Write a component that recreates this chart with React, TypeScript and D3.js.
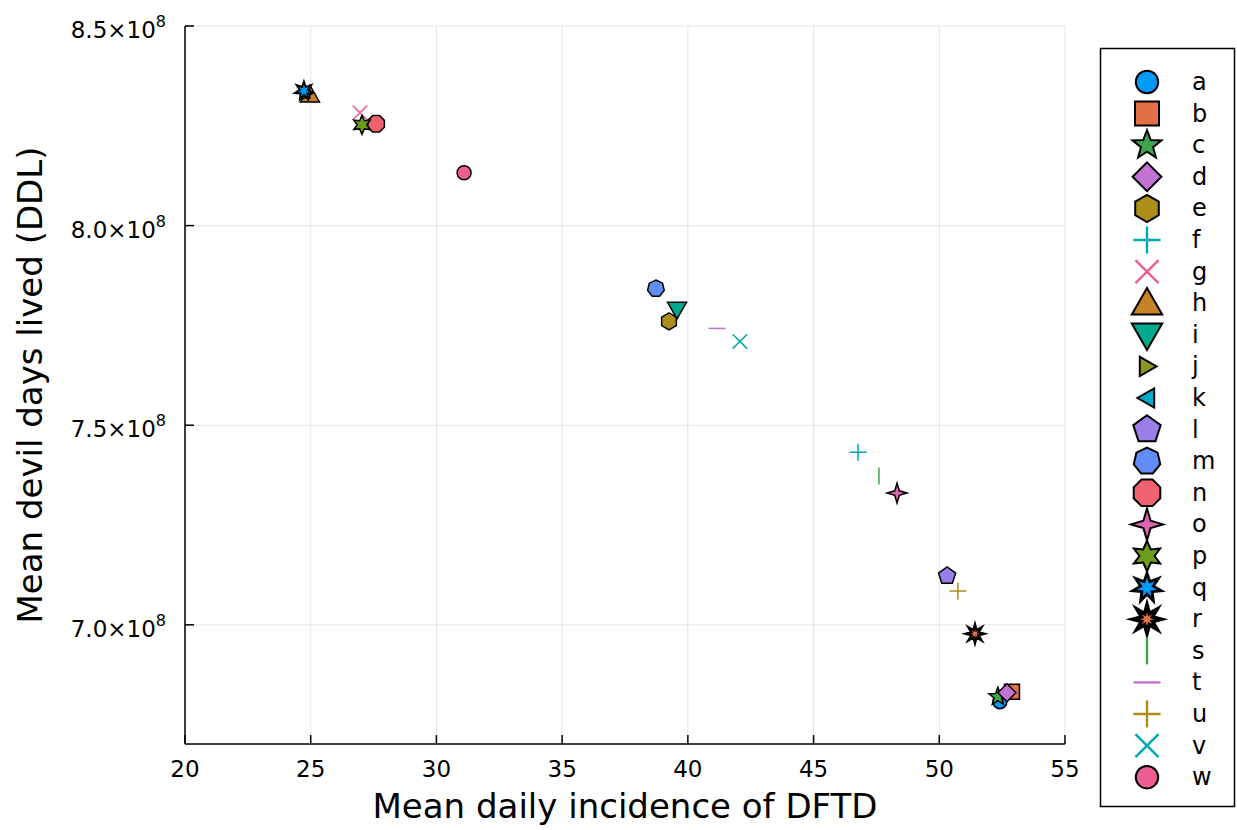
import React, { useEffect, useRef } from "react";
import * as d3 from "d3";

// series labels, marker shapes and values
const labels = ["a","b","c","d","e","f","g","h","i","j","k","l","m","n","o","p","q","r","s","t","u","v","w"];
const shapes = ["circle","rect","star5","diamond","hexagon","cross","xcross","utriangle","dtriangle","rtriangle","ltriangle","pentagon","heptagon","octagon","star4","star6","star7","star8","vline","hline","+","x","circle"];
const incidence = [52.41,52.89,52.33,52.69,39.25,46.77,26.96,24.97,39.57,24.85,24.78,50.31,38.73,27.6,48.32,27.04,24.73,51.42,47.6,41.16,50.74,42.07,31.1];
const daysLived = [6.8075e8,6.8325e8,6.82e8,6.83e8,7.76e8,7.4325e8,8.2825e8,8.3275e8,7.79e8,8.332e8,8.334e8,7.1225e8,7.8425e8,8.255e8,7.33e8,8.2525e8,8.3375e8,6.9775e8,7.3725e8,7.7425e8,7.085e8,7.71e8,8.1325e8];
const palette = ["#009AFA","#E36F47","#3EA44E","#C371D2","#AC8E18","#00AAAE","#ED5E93","#C68225","#00A98D","#8E971E","#00A8CB","#9B7FE9","#618DF6","#F0626F","#DD64B4","#6B9D1A"];
const xTicks = [20,25,30,35,40,45,50,55];
const yTicks = [7.0e8,7.5e8,8.0e8,8.5e8];
const yTickLabels = ["7.0", "7.5", "8.0", "8.5"];

const sizes: Record<string, number> = {
  circle: 7, rect: 7.5, star5: 9.5, diamond: 7.5, hexagon: 8.5, cross: 8.5, xcross: 8.5,
  utriangle: 9.5, dtriangle: 9.5, rtriangle: 6, ltriangle: 6, pentagon: 9, heptagon: 8.5,
  octagon: 9, star4: 10, star6: 9.5, star7: 10, star8: 11, vline: 8.5, hline: 8.5, "+": 8.5, x: 8.5,
};

function poly(n: number, r: number, rot: number) {
  const pts = d3.range(n).map(i => {
    const a = rot + (i * 2 * Math.PI) / n;
    return [r * Math.sin(a), -r * Math.cos(a)];
  });
  return "M" + pts.map(p => p[0].toFixed(2) + "," + p[1].toFixed(2)).join("L") + "Z";
}
function star(n: number, r: number, inner: number) {
  const pts = d3.range(2 * n).map(i => {
    const a = (i * Math.PI) / n;
    const rr = i % 2 ? r * inner : r;
    return [rr * Math.sin(a), -rr * Math.cos(a)];
  });
  return "M" + pts.map(p => p[0].toFixed(2) + "," + p[1].toFixed(2)).join("L") + "Z";
}

function markerPath(shape: string, r: number) {
  switch (shape) {
    case "circle": return d3.symbol(d3.symbolCircle, Math.PI * r * r)()!;
    case "rect": return `M${-r},${-r}H${r}V${r}H${-r}Z`;
    case "diamond": return poly(4, r * 1.2, 0);
    case "hexagon": return poly(6, r, 0);
    case "pentagon": return poly(5, r, 0);
    case "heptagon": return poly(7, r, 0);
    case "octagon": return poly(8, r, Math.PI / 8);
    case "utriangle": return `M0,${-r}L${r},${r * 0.75}L${-r},${r * 0.75}Z`;
    case "dtriangle": return `M0,${r}L${r},${-r * 0.75}L${-r},${-r * 0.75}Z`;
    case "rtriangle": return `M${r},0L${-r * 0.75},${r}L${-r * 0.75},${-r}Z`;
    case "ltriangle": return `M${-r},0L${r * 0.75},${r}L${r * 0.75},${-r}Z`;
    case "star4": return star(4, r, 0.32);
    case "star5": return star(5, r, 0.42);
    case "star6": return star(6, r, 0.5);
    case "star7": return star(7, r, 0.45);
    case "star8": return star(8, r, 0.42);
    case "cross": case "+": return `M${-r},0H${r}M0,${-r}V${r}`;
    case "xcross": case "x": { const q = r * 0.85; return `M${-q},${-q}L${q},${q}M${-q},${q}L${q},${-q}`; }
    case "vline": return `M0,${-r}V${r}`;
    case "hline": return `M${-r},0H${r}`;
  }
  return "";
}
const isLine = (s: string) => ["cross","+","xcross","x","vline","hline"].includes(s);
// thin-spiked stars look mostly black in the reference, with a coloured core
const darkCore: Record<string, number> = { star7: 0.62, star8: 0.4 };

export default function App() {
  const ref = useRef<SVGSVGElement>(null);

  useEffect(() => {
    const W = 1237, H = 830;
    const margin = { top: 26, right: 172, bottom: 86, left: 185 };
    const svg = d3.select(ref.current).attr("width", W).attr("height", H);
    svg.selectAll("*").remove();

    const x = d3.scaleLinear().domain([20, 55]).range([margin.left, W - margin.right]);
    const y = d3.scaleLinear().domain([6.7015e8, 8.5e8]).range([H - margin.bottom, margin.top]);
    const font = "DejaVu Sans, sans-serif";

    const g = svg.append("g");

    // grid
    g.selectAll(".gx").data(xTicks).join("line")
      .attr("x1", d => x(d)).attr("x2", d => x(d))
      .attr("y1", y.range()[0]).attr("y2", y.range()[1])
      .attr("stroke", "#000").attr("stroke-opacity", 0.1).attr("stroke-width", 1);
    g.selectAll(".gy").data(yTicks).join("line")
      .attr("x1", x.range()[0]).attr("x2", x.range()[1])
      .attr("y1", d => y(d)).attr("y2", d => y(d))
      .attr("stroke", "#000").attr("stroke-opacity", 0.1).attr("stroke-width", 1);

    // axes lines + inward ticks
    const bottom = y.range()[0];
    g.append("line").attr("x1", x.range()[0]).attr("x2", x.range()[1])
      .attr("y1", bottom).attr("y2", bottom).attr("stroke", "#000").attr("stroke-width", 1.5);
    g.append("line").attr("x1", x.range()[0]).attr("x2", x.range()[0])
      .attr("y1", bottom).attr("y2", y.range()[1]).attr("stroke", "#000").attr("stroke-width", 1.5);
    g.selectAll(".tx").data(xTicks).join("line")
      .attr("x1", d => x(d)).attr("x2", d => x(d))
      .attr("y1", bottom).attr("y2", bottom - 9).attr("stroke", "#000").attr("stroke-width", 1.5);
    g.selectAll(".ty").data(yTicks).join("line")
      .attr("x1", x.range()[0]).attr("x2", x.range()[0] + 9)
      .attr("y1", d => y(d)).attr("y2", d => y(d)).attr("stroke", "#000").attr("stroke-width", 1.5);

    // tick labels
    g.selectAll(".lx").data(xTicks).join("text")
      .attr("x", d => x(d)).attr("y", bottom + 33)
      .attr("text-anchor", "middle").attr("font-family", font).attr("font-size", 23)
      .text(d => d);
    const yl = g.selectAll(".ly").data(yTicks).join("text")
      .attr("x", 166).attr("y", d => y(d) + 12)
      .attr("text-anchor", "end").attr("font-family", font).attr("font-size", 23);
    yl.append("tspan").text((d, i) => yTickLabels[i] + "×10");
    yl.append("tspan").attr("dy", -11).attr("font-size", 16).text("8");

    // axis titles
    g.append("text").attr("x", (x.range()[0] + x.range()[1]) / 2).attr("y", 818)
      .attr("text-anchor", "middle").attr("font-family", font).attr("font-size", 34)
      .text("Mean daily incidence of DFTD");
    g.append("text").attr("transform", `translate(42,${(y.range()[0] + y.range()[1]) / 2}) rotate(-90)`)
      .attr("text-anchor", "middle").attr("font-family", font).attr("font-size", 34)
      .text("Mean devil days lived (DDL)");

    // points
    const data = labels.map((l, i) => ({ l, i, shape: shapes[i], xv: incidence[i], yv: daysLived[i], color: palette[i % palette.length] }));
    const drawMarker = (sel: any, scale: number, sw: number) => {
      sel.append("path")
        .attr("d", (d: any) => markerPath(d.shape, sizes[d.shape] * scale))
        .attr("fill", (d: any) => isLine(d.shape) ? "none" : (darkCore[d.shape] ? "#000" : d.color))
        .attr("stroke", (d: any) => isLine(d.shape) ? d.color : "#000")
        .attr("stroke-width", (d: any) => isLine(d.shape) ? 1.5 * scale : sw)
        .attr("stroke-linejoin", "miter");
      sel.filter((d: any) => darkCore[d.shape]).append("path")
        .attr("d", (d: any) => markerPath(d.shape, sizes[d.shape] * scale * darkCore[d.shape]))
        .attr("fill", (d: any) => d.color);
    };
    const pts = g.selectAll(".pt").data(data).join("g")
      .attr("transform", d => `translate(${x(d.xv)},${y(d.yv)})`);
    drawMarker(pts, 1, 1.5);

    // legend
    const lg = svg.append("g");
    lg.append("rect").attr("x", 1100.5).attr("y", 48.5).attr("width", 134).attr("height", 758)
      .attr("fill", "#fff").attr("stroke", "#000").attr("stroke-width", 1.5);
    const rows = lg.selectAll(".lr").data(data).join("g")
      .attr("transform", d => `translate(1147,${82 + d.i * 31.6})`);
    drawMarker(rows, 1.6, 2);
    rows.append("text").attr("x", 45).attr("y", 8)
      .attr("font-family", font).attr("font-size", 24).text(d => d.l);
  }, []);

  return <svg ref={ref} style={{ position: "absolute", left: 0, top: 0 }}></svg>;
}
